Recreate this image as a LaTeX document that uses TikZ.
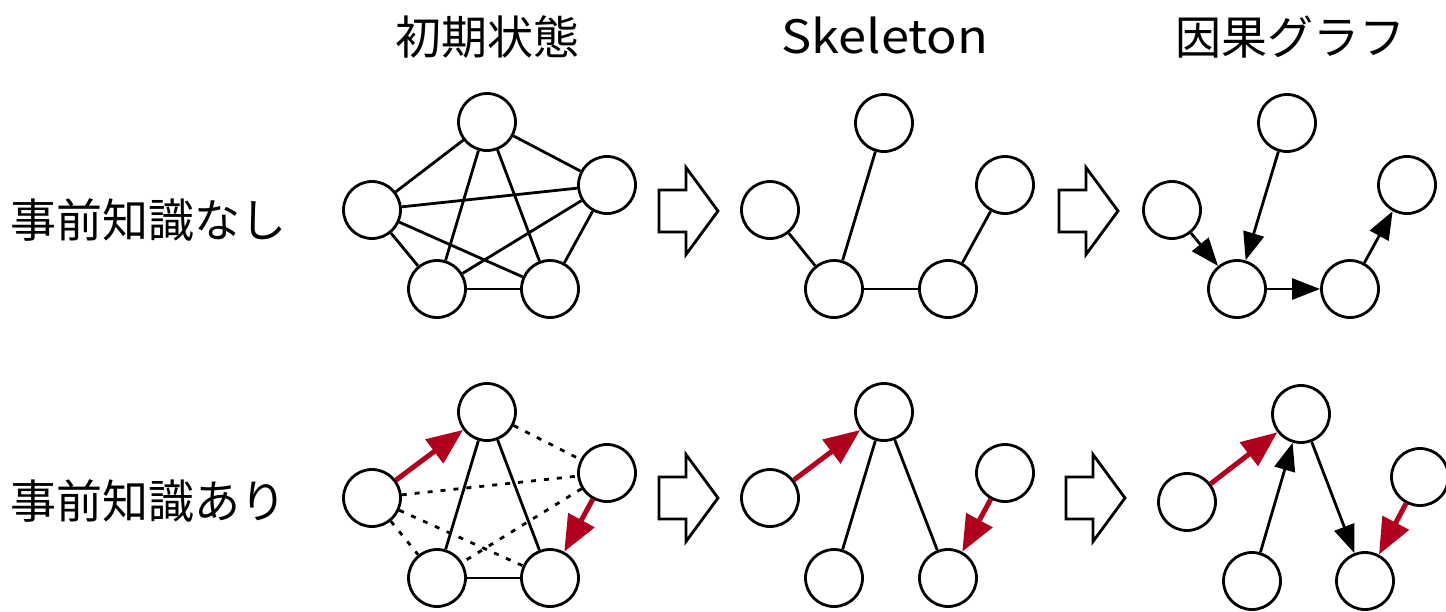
\documentclass[tikz,border=0pt]{standalone}
\usepackage{fontspec}
\setmainfont{Noto Sans CJK JP}
\usetikzlibrary{arrows.meta}
\definecolor{kred}{RGB}{176,0,30}
\begin{document}
\begin{tikzpicture}[x=1pt,y=-1pt,
  vert/.style={circle,draw,line width=2.8pt,minimum size=57pt,inner sep=0pt,fill=white},
  edge/.style={line width=2.8pt},
  dotedge/.style={line width=2.8pt,dash pattern=on 5pt off 8pt},
  carrow/.style={line width=2.8pt,-{Triangle[length=28pt,width=21pt]}},
  rarrow/.style={line width=5pt,draw=kred,-{Triangle[length=36pt,width=29pt,fill=kred]}},
  bigarrow/.style={line width=2.8pt,line join=miter},
  lbl/.style={font=\fontsize{46}{50}\selectfont,inner sep=0pt}]
\useasboundingbox (0,0) rectangle (1446,611);
% headings
\node[lbl] (h1) at (487,37) {初期状態};
\node[lbl] (h2) at (885,35) {\scalebox{1.1}[1]{Skeleton}};
\node[lbl] (h3) at (1290,37) {因果グラフ};
\node[lbl,anchor=west] (r1) at (10,220) {事前知識なし};
\node[lbl,anchor=west] (r2) at (10,501) {事前知識あり};
% hollow arrows
\foreach \xa/\ya in {659/211,1059/211,659/498,1066/498}
  \draw[bigarrow] (\xa,\ya) ++(0,-21) -- ++(27,0) -- ++(0,-22.5) -- ++(32,43.5)
     -- ++(-32,43.5) -- ++(0,-22.5) -- ++(-27,0) -- cycle;
% column 1 top
\node[vert] (A1) at (487,122) {};
\node[vert] (A2) at (372,210) {};
\node[vert] (A3) at (607,185) {};
\node[vert] (A4) at (437,289) {};
\node[vert] (A5) at (550,289) {};
% column 1 bottom
\node[vert] (B1) at (487,412) {};
\node[vert] (B2) at (372,498) {};
\node[vert] (B3) at (607,473) {};
\node[vert] (B4) at (437,578) {};
\node[vert] (B5) at (550,578) {};
% column 2 top
\node[vert] (C1) at (884,123) {};
\node[vert] (C2) at (770,210) {};
\node[vert] (C3) at (1005,185) {};
\node[vert] (C4) at (834,289) {};
\node[vert] (C5) at (948,289) {};
% column 2 bottom
\node[vert] (D1) at (884,412) {};
\node[vert] (D2) at (770,498) {};
\node[vert] (D3) at (1005,473) {};
\node[vert] (D4) at (834,578) {};
\node[vert] (D5) at (948,578) {};
% column 3 top
\node[vert] (E1) at (1287,123) {};
\node[vert] (E2) at (1172,210) {};
\node[vert] (E3) at (1407,185) {};
\node[vert] (E4) at (1237,289) {};
\node[vert] (E5) at (1350,289) {};
% column 3 bottom
\node[vert] (F1) at (1301,414) {};
\node[vert] (F2) at (1187,502) {};
\node[vert] (F3) at (1420,477) {};
\node[vert] (F4) at (1252,581) {};
\node[vert] (F5) at (1365,581) {};
% edges A
\foreach \p/\q in {1/2,1/3,1/4,1/5,2/3,2/4,2/5,3/4,3/5,4/5}
  \draw[edge] (A\p) -- (A\q);
% edges B
\foreach \p/\q in {1/4,1/5,4/5}
  \draw[edge] (B\p) -- (B\q);
\foreach \p/\q in {1/3,2/3,2/5,2/4,3/4}
  \draw[dotedge] (B\p) -- (B\q);
\draw[rarrow] (B2) -- (B1);
\draw[rarrow] (B3) -- (B5);
% edges C
\foreach \p/\q in {1/4,2/4,4/5,3/5}
  \draw[edge] (C\p) -- (C\q);
% edges D
\foreach \p/\q in {1/4,1/5}
  \draw[edge] (D\p) -- (D\q);
\draw[rarrow] (D2) -- (D1);
\draw[rarrow] (D3) -- (D5);
% edges E
\draw[carrow] (E2) -- (E4);
\draw[carrow] (E1) -- (E4);
\draw[carrow] (E4) -- (E5);
\draw[carrow] (E5) -- (E3);
% edges F
\draw[rarrow] (F2) -- (F1);
\draw[rarrow] (F3) -- (F5);
\draw[carrow] (F4) -- (F1);
\draw[carrow] (F1) -- (F5);
\end{tikzpicture}
\end{document}
